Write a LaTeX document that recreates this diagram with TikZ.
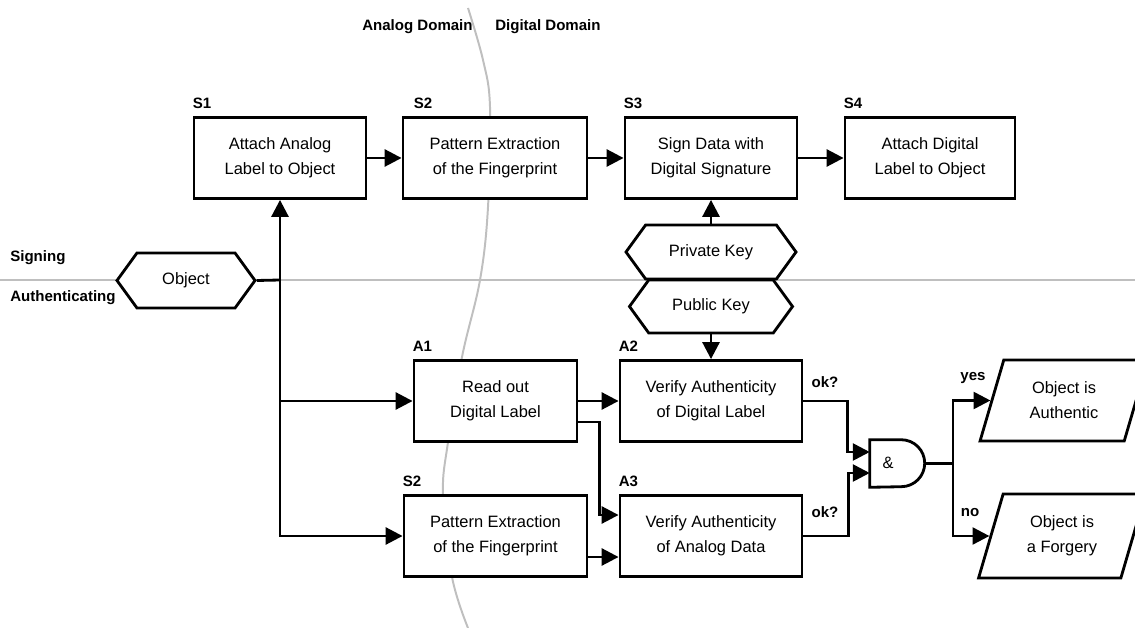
\documentclass[tikz,border=0pt]{standalone}
\usepackage{fontspec}
\setmainfont{Liberation Sans}
\usetikzlibrary{arrows.meta,calc,shapes.geometric,shapes.symbols}
\newcommand\stagefont{\fontsize{11.7pt}{17.8pt}\selectfont}
\newcommand\tagfont{\fontsize{10.7pt}{12pt}\selectfont\bfseries}
\tikzset{
	stage/.style={draw, line width=2pt, fill=white, minimum height=2.025cm, align=center, font=\stagefont, inner sep=0pt},
	keybox/.style={draw, line width=2pt, fill=white, signal, signal to=west and east, signal pointer angle=108, font=\stagefont, inner sep=0pt},
	result/.style={draw, line width=2pt, fill=white, trapezium, trapezium left angle=70, trapezium right angle=110, trapezium stretches=true, align=center, font=\stagefont, inner sep=0pt},
	tag/.style={font=\tagfont, inner sep=0pt},
	steplabel/.style={font=\tagfont, inner sep=0pt, anchor=south west, yshift=5pt},
	flow/.style={line width=2pt, -{Triangle[length=12pt,width=12pt]}},
	wire/.style={line width=2pt},
	lane/.style={line width=1.4pt, color=black!25}
}

\begin{document}
\begin{tikzpicture}[x=0.025cm, y=-0.025cm]
		%%%%% START %%%%%
		\useasboundingbox (0,0) rectangle (1135,628);
		\clip (0,0) rectangle (1135,628);
		
		\draw[lane] (0,280) -- (1135,280);
		\draw[lane] plot[smooth, tension=0.6] coordinates {(468,8) (483,60) (490,107) (488,207) (480,280) (462,357) (448,442) (443,495) (452,577) (468,628)};
		
		\node[tag, anchor=west] (analog) at (362,27) {Analog Domain};
		\node[tag, anchor=west] (digital) at (495,27) {Digital Domain};
		\node[tag, anchor=west] (signing) at (10,258) {Signing};
		\node[tag, anchor=west] (authenticating) at (10,298) {Authenticating};
		
		% signing row
		\node[stage, minimum width=4.3cm, label={[steplabel]north west:S1}] (S1) at (280,158) {Attach Analog\\Label to Object};
		\node[stage, minimum width=4.6cm, label={[steplabel, xshift=8.5pt]north west:S2}] (S2) at (495,158) {Pattern Extraction\\of the Fingerprint};
		\node[stage, minimum width=4.3cm, label={[steplabel]north west:S3}] (S3) at (711,158) {Sign Data with\\Digital Signature};
		\node[stage, minimum width=4.25cm, label={[steplabel]north west:S4}] (S4) at (930,158) {Attach Digital\\Label to Object};
		
		\node[keybox, minimum width=3.45cm, minimum height=1.375cm] (object) at (186,280.5) {Object};
		\node[keybox, minimum width=4.25cm, minimum height=1.35cm] (privkey) at (711,252) {Private Key};
		\node[keybox, minimum width=4.075cm, minimum height=1.325cm] (pubkey) at (711,306.5) {Public Key};
		
		% authenticating rows
		\node[stage, minimum width=4.075cm, label={[steplabel]north west:A1}] (A1) at (495.5,401) {Read out\\Digital Label};
		\node[stage, minimum width=4.55cm, label={[steplabel]north west:A2}] (A2) at (711,401) {Verify Authenticity\\of Digital Label};
		\node[stage, minimum width=4.575cm, label={[steplabel]north west:S2}] (S2b) at (495.5,536) {Pattern Extraction\\of the Fingerprint};
		\node[stage, minimum width=4.55cm, label={[steplabel]north west:A3}] (A3) at (711,536) {Verify Authenticity\\of Analog Data};
		
		\node[result, minimum width=4.2cm, minimum height=2.025cm] (authentic) at (1064,400.5) {Object is\\Authentic};
		\node[result, minimum width=4.2cm, minimum height=2.1cm] (forgery) at (1062,536) {Object is\\a Forgery};
		
		\node[minimum width=1.375cm, minimum height=1.175cm, inner sep=0pt] (gate) at (897.5,463.5) {};
		\draw[wire, fill=white] (gate.north west) -- ++(31.5,0) arc[start angle=-90, end angle=90, radius=23.5] -- (gate.south west) -- cycle;
		\node[font=\stagefont, inner sep=0pt] (amp) at (888,463) {\&};
		
		\node[tag] (ok1) at (825,382) {ok?};
		\node[tag] (ok2) at (825,512) {ok?};
		\node[tag] (yes) at (973,378) {yes};
		\node[tag] (no) at (970,513) {no};
		
		% connectors
		\coordinate (split) at (280,280);
		\coordinate (fork) at (953,463.5);
		\draw[wire] (object.east) -- (split);
		\draw[flow] (split) -- (S1.south);
		\draw[flow] (split) |- (A1.west);
		\draw[flow] (split) |- (S2b.west);
		
		\draw[flow] (S1.east) -- (S2.west);
		\draw[flow] (S2.east) -- (S3.west);
		\draw[flow] (S3.east) -- (S4.west);
		\draw[flow] (privkey.north) -- (S3.south);
		\draw[flow] (pubkey.south) -- (A2.north);
		
		\draw[flow] (A1.east) -- (A2.west);
		\draw[flow] ($(A1.east)+(0,21)$) -- ++(21,0) |- ($(A3.west)+(0,-21)$);
		\draw[flow] ($(S2b.east)+(0,21)$) -- ($(A3.west)+(0,21)$);
		
		\draw[flow] (A2.east) -- ++(44,0) |- ($(gate.west)+(0,-11.5)$);
		\draw[flow] (A3.east) -- ++(45,0) |- ($(gate.west)+(0,9.5)$);
		\draw[wire] (gate.east) -- (fork);
		\draw[flow] (fork) |- (authentic.west);
		\draw[flow] (fork) |- (forgery.west);
		%%%%% END %%%%%
\end{tikzpicture}
\end{document}
